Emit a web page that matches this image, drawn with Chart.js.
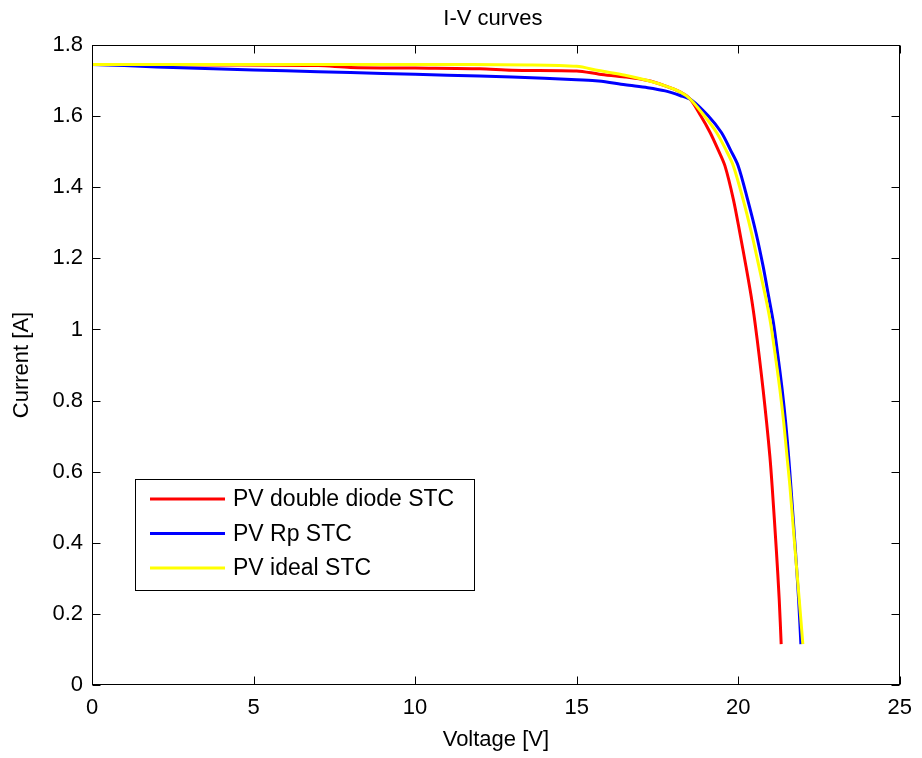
<!DOCTYPE html>
<html>
<head>
<meta charset="utf-8">
<script src="https://cdn.jsdelivr.net/npm/chart.js@4.4.0/dist/chart.umd.min.js"></script>
<style>
  html, body { margin: 0; padding: 0; background: #fff; }
  #wrap { width: 922px; height: 758px; }
</style>
</head>
<body>
<div id="wrap"><canvas id="ivChart" width="922" height="758"></canvas></div>
<script>
// I-V curve data (voltage [V], current [A])
const doubleDiodeV = [0, 4, 7, 8, 10, 12, 13, 15, 15.7, 16.5, 17.2, 17.74, 18.2, 18.51, 18.84, 19.13, 19.38, 19.59, 19.85, 20.05, 20.24, 20.4, 20.52, 20.65, 20.77, 20.88, 20.98, 21.05, 21.18, 21.27, 21.33];
const doubleDiodeI = [1.745, 1.744, 1.742, 1.737, 1.735, 1.733, 1.729, 1.727, 1.718, 1.71, 1.70, 1.685, 1.668, 1.648, 1.601, 1.554, 1.505, 1.46, 1.366, 1.272, 1.178, 1.094, 1.019, 0.925, 0.831, 0.737, 0.643, 0.559, 0.38, 0.239, 0.115];

const rpV = [0, 1, 2, 3, 5, 7, 9, 11, 13, 15, 15.68, 16.5, 17.2, 17.74, 18.2, 18.56, 19.07, 19.48, 19.76, 20.0, 20.29, 20.55, 20.77, 20.94, 21.09, 21.23, 21.36, 21.47, 21.56, 21.63, 21.77, 21.87, 21.94];
const rpI = [1.745, 1.742, 1.738, 1.735, 1.730, 1.725, 1.720, 1.715, 1.710, 1.702, 1.699, 1.688, 1.68, 1.671, 1.658, 1.645, 1.601, 1.554, 1.505, 1.46, 1.366, 1.272, 1.178, 1.094, 1.019, 0.925, 0.831, 0.737, 0.643, 0.559, 0.38, 0.239, 0.115];

const idealV = [0, 5, 10, 13.5, 15, 15.68, 16.5, 17.2, 17.74, 18.2, 18.51, 18.95, 19.33, 19.62, 19.85, 20.15, 20.41, 20.64, 20.84, 21.0, 21.15, 21.29, 21.41, 21.51, 21.6, 21.76, 21.89, 22.0];
const idealI = [1.745, 1.745, 1.745, 1.744, 1.740, 1.728, 1.715, 1.70, 1.685, 1.668, 1.648, 1.601, 1.554, 1.505, 1.46, 1.366, 1.272, 1.178, 1.094, 1.019, 0.925, 0.831, 0.737, 0.643, 0.559, 0.38, 0.239, 0.115];

const seriesLabels = ['PV double diode STC', 'PV Rp STC', 'PV ideal STC'];
const seriesColors = ['#ff0000', '#0000ff', '#ffff00'];
const xTicks = [0, 5, 10, 15, 20, 25];
const yTicks = [0, 0.2, 0.4, 0.6, 0.8, 1, 1.2, 1.4, 1.6, 1.8];

const FONT = 'Arial, "Liberation Sans", Helvetica, sans-serif';

function toPoints(xs, ys) {
  return xs.map((v, i) => ({ x: v, y: ys[i] }));
}

// MATLAB-like box with inward ticks, title and legend
const matlabFrame = {
  id: 'matlabFrame',
  afterDatasetsDraw(chart) {
    const { ctx, chartArea: a, scales: { x, y } } = chart;
    ctx.save();
    ctx.strokeStyle = '#000';
    ctx.lineWidth = 1;
    const L = Math.round(a.left) + 0.5, R = Math.round(a.right) - 0.5;
    const T = Math.round(a.top) + 0.5, B = Math.round(a.bottom) - 0.5;
    ctx.strokeRect(L, T, R - L, B - T);
    const tl = 8;
    ctx.beginPath();
    xTicks.forEach(v => {
      const px = Math.round(x.getPixelForValue(v)) + 0.5;
      ctx.moveTo(px, B); ctx.lineTo(px, B - tl);
      ctx.moveTo(px, T); ctx.lineTo(px, T + tl);
    });
    yTicks.forEach(v => {
      const py = Math.round(y.getPixelForValue(v)) + 0.5;
      ctx.moveTo(L, py); ctx.lineTo(L + tl, py);
      ctx.moveTo(R, py); ctx.lineTo(R - tl, py);
    });
    ctx.stroke();

    // title
    ctx.fillStyle = '#000';
    ctx.font = '22px ' + FONT;
    ctx.textAlign = 'center';
    ctx.textBaseline = 'middle';
    ctx.fillText('I-V curves', (a.left + a.right) / 2 - 3, 19);

    // legend
    const bx = a.left + 43, by = a.top + 434, bw = 339, bh = 111;
    ctx.fillStyle = '#fff';
    ctx.fillRect(bx, by, bw, bh);
    ctx.strokeRect(bx + 0.5, by + 0.5, bw, bh);
    ctx.font = '23px ' + FONT;
    ctx.textAlign = 'left';
    chart.data.datasets.forEach((ds, i) => {
      const ly = by + 20 + i * 34.5;
      ctx.strokeStyle = ds.borderColor;
      ctx.lineWidth = 3;
      ctx.beginPath();
      ctx.moveTo(bx + 15, ly);
      ctx.lineTo(bx + 90, ly);
      ctx.stroke();
      ctx.fillStyle = '#000';
      ctx.fillText(ds.label, bx + 98, ly + 1);
    });
    ctx.restore();
  }
};

const ctx = document.getElementById('ivChart').getContext('2d');
new Chart(ctx, {
  type: 'scatter',
  data: {
    datasets: [
      { label: seriesLabels[0], data: toPoints(doubleDiodeV, doubleDiodeI), borderColor: seriesColors[0], order: 2 },
      { label: seriesLabels[1], data: toPoints(rpV, rpI), borderColor: seriesColors[1], order: 1 },
      { label: seriesLabels[2], data: toPoints(idealV, idealI), borderColor: seriesColors[2], order: 0 }
    ].map(ds => ({ ...ds, showLine: true, pointRadius: 0, borderWidth: 3, tension: 0.3, fill: false }))
  },
  options: {
    responsive: false,
    animation: false,
    devicePixelRatio: 1,
    layout: { padding: { top: 45, right: 20, left: 0, bottom: 0 } },
    plugins: {
      legend: { display: false },
      title: { display: false },
      tooltip: { enabled: false }
    },
    scales: {
      x: {
        type: 'linear',
        min: 0, max: 25,
        afterBuildTicks: s => { s.ticks = xTicks.map(v => ({ value: v })); },
        afterFit: s => { s.height = 73; },
        grid: { display: false, drawTicks: false },
        border: { display: false },
        ticks: { color: '#000', padding: 10, maxRotation: 0, font: { family: FONT, size: 22 } },
        title: { display: true, text: 'Voltage [V]', color: '#000', padding: { top: 0, bottom: 5 }, font: { family: FONT, size: 22 } }
      },
      y: {
        type: 'linear',
        min: 0, max: 1.8,
        afterBuildTicks: s => { s.ticks = yTicks.map(v => ({ value: v })); },
        afterFit: s => { s.width = 92; },
        grid: { display: false, drawTicks: false },
        border: { display: false },
        ticks: {
          color: '#000', padding: 9, font: { family: FONT, size: 22 },
          callback: v => String(Number(v.toFixed(1)))
        },
        title: { display: true, text: 'Current [A]', color: '#000', padding: { top: 9, bottom: 0 }, font: { family: FONT, size: 22 } }
      }
    }
  },
  plugins: [matlabFrame]
});
</script>
</body>
</html>
